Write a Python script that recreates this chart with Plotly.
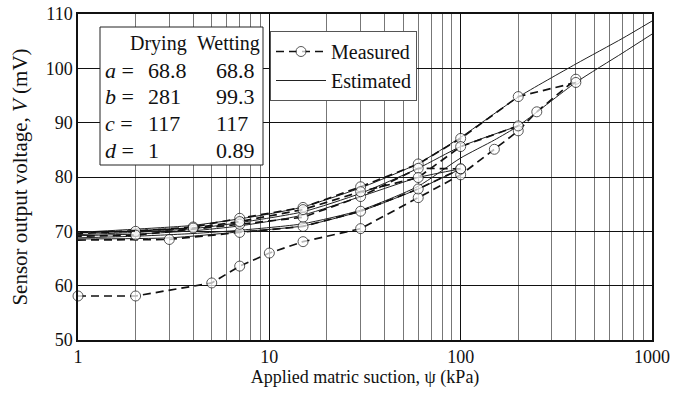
import plotly.graph_objects as go

# ---------------- data ----------------
# Measured paths (suction kPa, voltage mV)
meas_dry1_x = [1, 2, 5, 7, 10, 15, 30, 60, 100, 150, 200, 250, 400]
meas_dry1_y = [58.1, 58.1, 60.5, 63.6, 66.0, 68.1, 70.5, 76.2, 80.4, 85.1, 88.5, 92.0, 98.0]

meas_wet1_x = [400, 200, 100, 60, 30, 15, 7, 4, 2, 1]
meas_wet1_y = [97.4, 94.8, 87.1, 82.4, 78.2, 74.4, 72.4, 70.8, 70.0, 69.8]

meas_dry2_x = [1, 3, 7, 15, 30, 60, 100]
meas_dry2_y = [68.4, 68.5, 69.8, 70.9, 73.7, 77.8, 81.5]

meas_wet2_x = [100, 60, 30, 15, 7, 2, 1]
meas_wet2_y = [81.5, 81.6, 76.4, 72.6, 71.3, 69.3, 69.1]

meas_wet3_x = [200, 100, 60, 30, 15, 7, 4, 1]
meas_wet3_y = [89.4, 85.6, 79.9, 77.3, 74.0, 71.8, 70.6, 69.6]

# Estimated curves
est_wet_x = [1, 2, 4, 7, 10, 15, 30, 60, 100, 200, 400, 700, 1000]
est_wet_y = [69.8, 70.4, 71.1, 72.3, 73.2, 74.5, 78.0, 82.5, 87.3, 94.7, 100.8, 105.5, 108.7]

est_dry_x = [1, 2, 4, 7, 15, 30, 60, 100, 150, 200, 400, 700, 1000]
est_dry_y = [68.8, 69.1, 69.6, 70.2, 71.4, 73.9, 78.3, 83.5, 86.8, 89.4, 97.4, 102.8, 106.3]

est_scan1_x = [200, 100, 60, 30, 15, 7, 4, 2, 1]
est_scan1_y = [89.4, 85.6, 81.6, 77.0, 73.6, 71.6, 70.5, 69.8, 69.4]

est_scan2_x = [100, 60, 30, 15, 7, 4, 2, 1]
est_scan2_y = [81.5, 79.9, 76.4, 73.0, 71.0, 70.1, 69.5, 69.2]

est_scan3_x = [1, 3, 7, 15, 30, 60, 100]
est_scan3_y = [68.6, 68.8, 69.9, 71.0, 73.7, 77.8, 81.5]

table_header = ["Drying", "Wetting"]
table_params = ["a", "b", "c", "d"]
table_drying = ["68.8", "281", "117", "1"]
table_wetting = ["68.8", "99.3", "117", "0.89"]

y_ticks = [50, 60, 70, 80, 90, 100, 110]
x_ticks = [1, 10, 100, 1000]

# ---------------- figure ----------------
FONT = "Liberation Serif, Times New Roman, serif"
fig = go.Figure()

est_sets = [(est_wet_x, est_wet_y), (est_dry_x, est_dry_y), (est_scan1_x, est_scan1_y),
            (est_scan2_x, est_scan2_y), (est_scan3_x, est_scan3_y)]
for i, (xs, ys) in enumerate(est_sets):
    fig.add_trace(go.Scatter(
        x=xs, y=ys, mode="lines", line=dict(color="#222", width=1, shape="spline", smoothing=0.6),
        name="Estimated", showlegend=(i == 0), legendrank=2, cliponaxis=True))

meas_sets = [(meas_dry1_x, meas_dry1_y, True), (meas_wet1_x, meas_wet1_y, False),
             (meas_dry2_x, meas_dry2_y, False), (meas_wet2_x, meas_wet2_y, False),
             (meas_wet3_x, meas_wet3_y, False)]
for i, (xs, ys, edge_marker) in enumerate(meas_sets):
    sizes = [10 if (x != 1 or edge_marker) else 0 for x in xs]
    fig.add_trace(go.Scatter(
        x=xs, y=ys, mode="lines+markers",
        line=dict(color="#111", width=1.7, dash="8px,5px"),
        marker=dict(symbol="circle", size=sizes, color="white", line=dict(color="#111", width=1)),
        name="Measured", showlegend=(i == 0), legendrank=1, cliponaxis=False))

# Page body margin is removed (see post_script), so figure pixels == screen pixels.
FIG_W, FIG_H = 688, 395
L, R, T, B = 78, 652, 14, 340
W, H = R - L, B - T
def px(x):
    return (x - L) / W
def py(y):
    return (B - y) / H

fig.add_shape(type="rect", xref="paper", yref="paper",
              x0=px(100), x1=px(263), y0=py(165), y1=py(27),
              line=dict(color="#222", width=1), fillcolor="white", layer="above")

hfont = dict(family=FONT, size=20, color="#111")
rfont = dict(family=FONT, size=22, color="#111")
fig.add_annotation(xref="paper", yref="paper", x=px(158), y=py(43), text=table_header[0],
                   showarrow=False, font=hfont, xanchor="center", yanchor="middle")
fig.add_annotation(xref="paper", yref="paper", x=px(228), y=py(43), text=table_header[1],
                   showarrow=False, font=hfont, xanchor="center", yanchor="middle")
for k, p in enumerate(table_params):
    yy = py(70 + 26.8 * k)
    fig.add_annotation(xref="paper", yref="paper", x=px(103), y=yy, text=f"<i>{p}</i> =",
                       showarrow=False, font=rfont, xanchor="left", yanchor="middle")
    fig.add_annotation(xref="paper", yref="paper", x=px(146), y=yy, text=table_drying[k],
                       showarrow=False, font=rfont, xanchor="left", yanchor="middle")
    fig.add_annotation(xref="paper", yref="paper", x=px(214), y=yy, text=table_wetting[k],
                       showarrow=False, font=rfont, xanchor="left", yanchor="middle")

fig.update_layout(
    width=FIG_W, height=FIG_H,
    margin=dict(l=L, r=FIG_W - R, t=T, b=FIG_H - B, autoexpand=False),
    paper_bgcolor="white", plot_bgcolor="white",
    font=dict(family=FONT, size=18, color="#111"),
    showlegend=True,
    legend=dict(x=px(270), y=py(31), xanchor="left", yanchor="top",
                bgcolor="white", bordercolor="#555", borderwidth=1,
                font=dict(family=FONT, size=20, color="#111"),
                tracegroupgap=0, itemwidth=50, traceorder="normal"),
    xaxis=dict(type="log", range=[0, 3], tickvals=x_ticks, ticktext=[str(v) for v in x_ticks],
               showgrid=True, gridcolor="#111", gridwidth=1, automargin=False,
               minor=dict(showgrid=True, gridcolor="#777", gridwidth=1, dtick="D1", ticks=""),
               showline=True, linecolor="#111", linewidth=1.5, mirror=True, ticks="",
               zeroline=False, tickfont=dict(size=18), ticklabeloverflow="allow",
               title=dict(text="Applied matric suction, ψ (kPa)", standoff=4,
                          font=dict(family=FONT, size=18))),
    yaxis=dict(range=[50, 110], tickvals=y_ticks, showgrid=True, gridcolor="#111", gridwidth=1,
               showline=True, linecolor="#111", linewidth=1.5, mirror=True, ticks="",
               zeroline=False, automargin=False, tickfont=dict(size=18), ticklabeloverflow="allow",
               title=dict(text="Sensor output voltage, <i>V</i> (mV)", standoff=12,
                          font=dict(family=FONT, size=21))),
)

fig.write_html("out.html", config={"displayModeBar": False},
               post_script="document.body.style.margin='0';document.body.style.overflow='hidden';")
